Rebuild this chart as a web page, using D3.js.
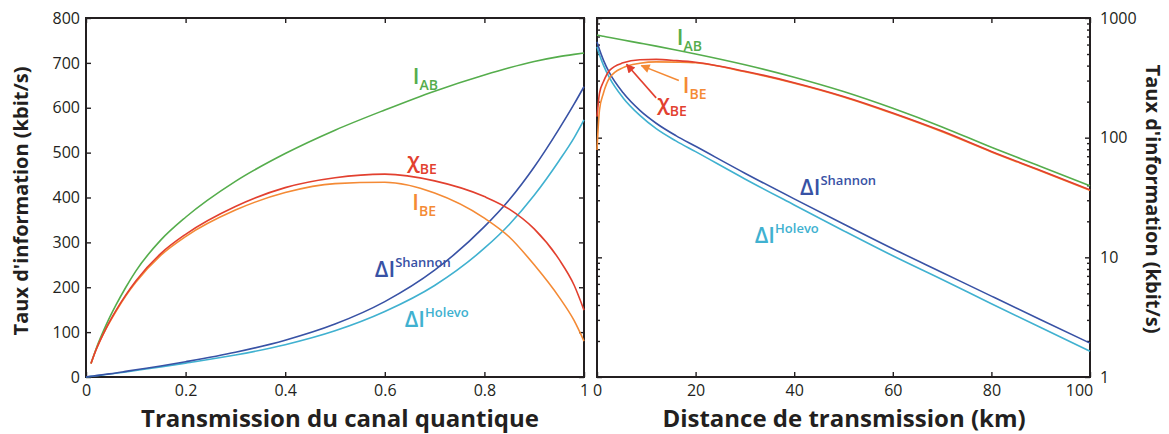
<!DOCTYPE html>
<html>
<head>
<meta charset="utf-8">
<script src="https://cdn.jsdelivr.net/npm/d3@7"></script>
<style>
  body { margin: 0; background: #fff; }
  text { font-family: "Open Sans", sans-serif; fill: #231f20; }
  .tick line { stroke: #231f20; stroke-width: 1.4; }
  .tick text { font-size: 16px; }
</style>
</head>
<body>
<div id="chart"></div>
<script>
// ---- left panel : rate vs channel transmission ----
var transmission = [0, 0.01, 0.02, 0.04, 0.06, 0.08, 0.1, 0.15, 0.2, 0.3, 0.4, 0.5, 0.6, 0.7, 0.8, 0.85, 0.9, 0.95, 0.98, 1.0];
var iabLeft      = [null, 30, 62, 115, 160, 200, 236, 305, 356, 436, 498, 550, 595, 637, 673, 689, 703, 714, 719, 722];
var chiLeft      = [null, 30, 60, 108, 148, 183, 214, 275, 318, 380, 422, 444, 452, 437, 402, 374, 330, 262, 205, 149];
var ibeLeft      = [null, 30, 60, 107, 146, 181, 211, 271, 313, 372, 411, 431, 434, 410, 354, 312, 250, 178, 126, 80];
var shannonLeft  = [0, 1.5, 3, 6, 9, 12.5, 16, 24.5, 34, 55, 82, 118, 168, 238, 335, 395, 468, 553, 608, 647];
var holevoLeft   = [0, 1.4, 2.8, 5.5, 8.3, 11.3, 14.5, 22.5, 31, 49, 72, 103, 146, 204, 287, 340, 405, 482, 533, 573];

// ---- right panel : rate vs distance (log scale) ----
var distance     = [0, 0.5, 1.3, 2.6, 5.3, 8.7, 12, 16, 20, 30, 40, 50, 60, 70, 80, 90, 100];
var iabRight     = [719, 713, 703, 687, 655, 617, 582, 541, 501, 407, 320, 243, 176, 123, 83, 57.5, 39.6];
var chiRight     = [150, 235, 293, 367, 422, 448, 451, 441, 427, 359, 288, 221, 161, 113.5, 76.7, 53.2, 36.6];
var ibeRight     = [79, 170, 235, 318, 385, 418, 430, 428, 423, 355, 285, 219, 159, 112, 76, 52.6, 36.2];
var shannonRight = [632, 545, 445, 344, 237, 169, 132, 104, 84.7, 50.5, 30.8, 19.0, 11.8, 7.48, 4.74, 3.01, 1.92];
var holevoRight  = [574, 494, 404, 313, 215, 153.5, 119, 94, 76.4, 45.2, 27.4, 16.7, 10.3, 6.52, 4.10, 2.59, 1.64];

var xTicksLeft = [0, 0.2, 0.4, 0.6, 0.8, 1];
var yTicksLeft = [0, 100, 200, 300, 400, 500, 600, 700, 800];
var xTicksRight = [0, 20, 40, 60, 80, 100];
var yTicksRight = [1, 10, 100, 1000];

var colors = { iab: "#55ad4c", chi: "#e2402f", ibe: "#f48a35", shannon: "#3852a5", holevo: "#40b1d0" };

var width = 1169, height = 434;

var svg = d3.select("#chart").append("svg")
    .attr("width", width)
    .attr("height", height);

var xL = d3.scaleLinear().domain([0, 1]).range([86, 584]);
var yL = d3.scaleLinear().domain([0, 800]).range([377, 18]);
var xR = d3.scaleLinear().domain([0, 100]).range([597, 1090]);
var yR = d3.scaleLog().domain([1, 1000]).range([377, 18]);

var minorTicks = [];
[1, 10, 100].forEach(function(dec) {
  for (var k = 2; k <= 9; k++) minorTicks.push(k * dec);
});

function noDomain(g) { g.select(".domain").remove(); }

// left panel axes
svg.append("g").attr("transform", "translate(0,377)")
   .call(d3.axisBottom(xL).tickValues(xTicksLeft).tickSizeInner(-5).tickSizeOuter(0).tickPadding(8)
        .tickFormat(function(d) { return String(d); }))
   .call(noDomain);
svg.append("g").attr("transform", "translate(0,18)")
   .call(d3.axisTop(xL).tickValues(xTicksLeft).tickSizeInner(-5).tickSizeOuter(0).tickFormat(""))
   .call(noDomain);
svg.append("g").attr("transform", "translate(86,0)")
   .call(d3.axisLeft(yL).tickValues(yTicksLeft).tickSizeInner(-5).tickSizeOuter(0).tickPadding(6))
   .call(noDomain);
svg.append("g").attr("transform", "translate(584,0)")
   .call(d3.axisRight(yL).tickValues(yTicksLeft).tickSizeInner(-5).tickSizeOuter(0).tickFormat(""))
   .call(noDomain);

// right panel axes
svg.append("g").attr("transform", "translate(0,377)")
   .call(d3.axisBottom(xR).tickValues(xTicksRight).tickSizeInner(-5).tickSizeOuter(0).tickPadding(8)
        .tickFormat(d3.format("d")))
   .call(noDomain)
   .call(function(g) {
     // last label sits a little left so it clears the "1" of the log axis
     g.selectAll(".tick text").filter(function(d) { return d === 100; }).attr("dx", -11);
   });
svg.append("g").attr("transform", "translate(0,18)")
   .call(d3.axisTop(xR).tickValues(xTicksRight).tickSizeInner(-5).tickSizeOuter(0).tickFormat(""))
   .call(noDomain);
svg.append("g").attr("transform", "translate(597,0)")
   .call(d3.axisLeft(yR).tickValues(yTicksRight).tickSizeInner(-5).tickSizeOuter(0).tickFormat(""))
   .call(noDomain);
svg.append("g").attr("transform", "translate(597,0)")
   .call(d3.axisLeft(yR).tickValues(minorTicks).tickSizeInner(-3).tickSizeOuter(0).tickFormat(""))
   .call(noDomain);
svg.append("g").attr("transform", "translate(1090,0)")
   .call(d3.axisRight(yR).tickValues(yTicksRight).tickSizeInner(-5).tickSizeOuter(0).tickPadding(10)
        .tickFormat(d3.format("d")))
   .call(noDomain);
svg.append("g").attr("transform", "translate(1090,0)")
   .call(d3.axisRight(yR).tickValues(minorTicks).tickSizeInner(-3).tickSizeOuter(0).tickFormat(""))
   .call(noDomain);

// frames
[[xL, yL], [xR, yR]].forEach(function(s) {
  var x0 = s[0].range()[0], x1 = s[0].range()[1];
  var y0 = s[1].range()[1], y1 = s[1].range()[0];
  svg.append("rect")
     .attr("x", x0).attr("y", y0)
     .attr("width", x1 - x0).attr("height", y1 - y0)
     .attr("fill", "none")
     .attr("stroke", "#231f20")
     .attr("stroke-width", 2);
});

// curves
function drawCurve(xs, ys, xScale, yScale, color) {
  var pts = xs.map(function(x, i) { return [x, ys[i]]; });
  var line = d3.line()
      .defined(function(d) { return d[1] != null; })
      .x(function(d) { return xScale(d[0]); })
      .y(function(d) { return yScale(d[1]); })
      .curve(d3.curveMonotoneX);
  svg.append("path")
     .datum(pts)
     .attr("d", line)
     .attr("fill", "none")
     .attr("stroke", color)
     .attr("stroke-width", 1.6);
}

drawCurve(transmission, holevoLeft, xL, yL, colors.holevo);
drawCurve(transmission, shannonLeft, xL, yL, colors.shannon);
drawCurve(transmission, iabLeft, xL, yL, colors.iab);
drawCurve(transmission, ibeLeft, xL, yL, colors.ibe);
drawCurve(transmission, chiLeft, xL, yL, colors.chi);

drawCurve(distance, holevoRight, xR, yR, colors.holevo);
drawCurve(distance, shannonRight, xR, yR, colors.shannon);
drawCurve(distance, iabRight, xR, yR, colors.iab);
drawCurve(distance, ibeRight, xR, yR, colors.ibe);
drawCurve(distance, chiRight, xR, yR, colors.chi);

// curve labels
function curveLabel(x, y, main, small, isSup, color) {
  var t = svg.append("text")
     .attr("x", x).attr("y", y)
     .style("fill", color)
     .style("font-weight", 600);
  t.append("tspan").text(main).style("font-size", "22px");
  t.append("tspan").text(small)
     .style("font-size", isSup ? "13px" : "14px")
     .attr("dy", isSup ? -10 : 6);
}

curveLabel(xL(0.656), yL(653), "I", "AB", false, colors.iab);
curveLabel(xL(0.645), yL(465), "\u03C7", "BE", false, colors.chi);
curveLabel(xL(0.655), yL(372), "I", "BE", false, colors.ibe);
curveLabel(xL(0.58), yL(223), "\u0394I", "Shannon", true, colors.shannon);
curveLabel(xL(0.64), yL(111), "\u0394I", "Holevo", true, colors.holevo);

curveLabel(xR(16.2), yR(594), "I", "AB", false, colors.iab);
curveLabel(xR(17.4), yR(236), "I", "BE", false, colors.ibe);
curveLabel(xR(12.2), yR(170), "\u03C7", "BE", false, colors.chi);
curveLabel(xR(41.2), yR(33), "\u0394I", "Shannon", true, colors.shannon);
curveLabel(xR(32), yR(13.2), "\u0394I", "Holevo", true, colors.holevo);

// arrows pointing at the curves
var defs = svg.append("defs");
function arrow(name, color, x0, y0, x1, y1) {
  defs.append("marker")
      .attr("id", name)
      .attr("viewBox", "0 0 10 10")
      .attr("refX", 9).attr("refY", 5)
      .attr("markerWidth", 11).attr("markerHeight", 9)
      .attr("markerUnits", "userSpaceOnUse")
      .attr("orient", "auto")
    .append("path")
      .attr("d", "M0,0L10,5L0,10z")
      .attr("fill", color);
  svg.append("line")
     .attr("x1", x0).attr("y1", y0)
     .attr("x2", x1).attr("y2", y1)
     .attr("stroke", color)
     .attr("stroke-width", 1.6)
     .attr("marker-end", "url(#" + name + ")");
}
arrow("arrow-ibe", colors.ibe, xR(16.6), yR(300), xR(9), yR(400));
arrow("arrow-chi", colors.chi, xR(12), yR(215), xR(6), yR(410));

// axis titles
svg.append("text")
   .attr("x", 340).attr("y", 427)
   .attr("text-anchor", "middle")
   .style("font-size", "24px").style("font-weight", "bold")
   .text("Transmission du canal quantique");
svg.append("text")
   .attr("x", 844).attr("y", 427)
   .attr("text-anchor", "middle")
   .style("font-size", "24px").style("font-weight", "bold")
   .text("Distance de transmission (km)");
svg.append("text")
   .attr("transform", "translate(28,201) rotate(-90)")
   .attr("text-anchor", "middle")
   .style("font-size", "20px").style("font-weight", "bold")
   .text("Taux d'information (kbit/s)");
svg.append("text")
   .attr("transform", "translate(1146,199) rotate(90)")
   .attr("text-anchor", "middle")
   .style("font-size", "20px").style("font-weight", "bold")
   .text("Taux d'information (kbit/s)");
</script>
</body>
</html>
